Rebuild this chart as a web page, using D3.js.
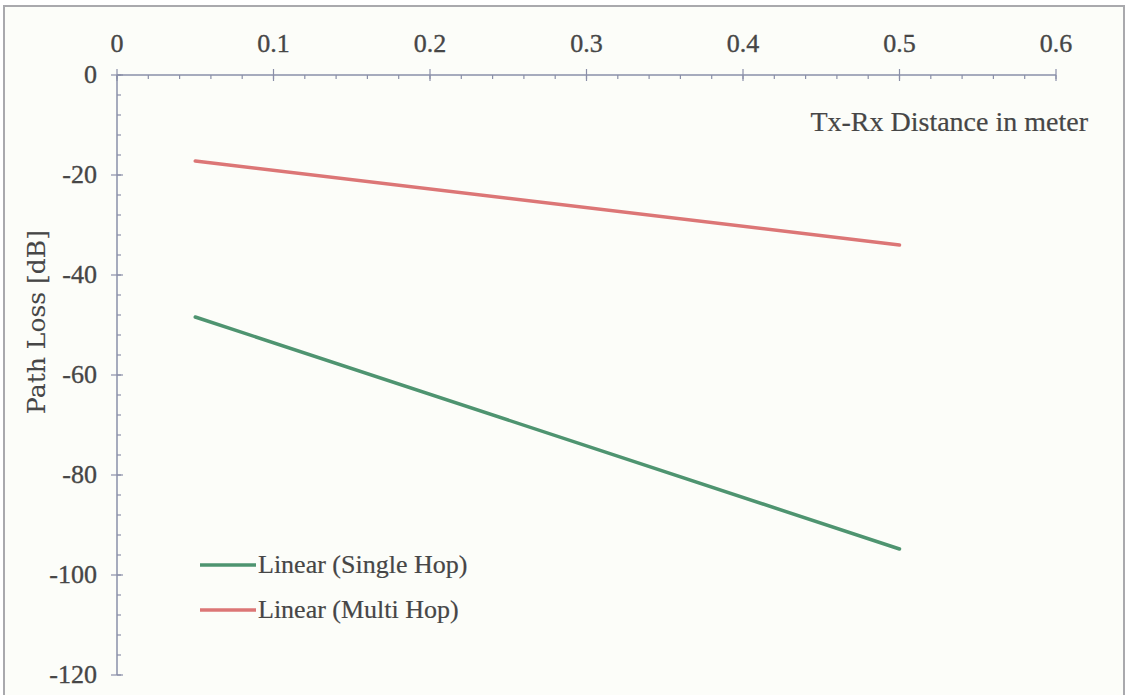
<!DOCTYPE html>
<html>
<head>
<meta charset="utf-8">
<script src="https://cdn.jsdelivr.net/npm/d3@7"></script>
<style>
  body { margin: 0; background: #fff; }
  text { font-family: "Liberation Serif", "Times New Roman", serif; fill: #464646; stroke: #464646; stroke-width: 0.35px; }
</style>
</head>
<body>
<script>
// data
var xTicks = [0, 0.1, 0.2, 0.3, 0.4, 0.5, 0.6];
var yTicks = [0, -20, -40, -60, -80, -100, -120];
var singleHop = [{x: 0.05, y: -48.4}, {x: 0.5, y: -94.8}];
var multiHop = [{x: 0.05, y: -17.2}, {x: 0.5, y: -34}];
var seriesNames = ["Linear (Single Hop)", "Linear (Multi Hop)"];
var seriesColors = ["#4e9470", "#dc7676"];

var width = 1128, height = 695;

var svg = d3.select("body").append("svg")
  .attr("width", width)
  .attr("height", height);

// chart area box
svg.append("rect")
  .attr("x", 4).attr("y", 6)
  .attr("width", 1120).attr("height", 700)
  .attr("fill", "#fcfdf9")
  .attr("stroke", "#a9a9ad")
  .attr("stroke-width", 2);

var x = d3.scaleLinear().domain([0, 0.6]).range([117, 1056]);
var y = d3.scaleLinear().domain([-120, 0]).range([675, 75]);

var axisColor = "#8a8fa8";

// minor ticks
var xMinor = d3.range(0, 0.6001, 0.02);
var yMinor = d3.range(-120, 0.001, 4);

var g = svg.append("g");

g.append("line")
  .attr("x1", x(0)).attr("x2", x(0.6))
  .attr("y1", y(0)).attr("y2", y(0))
  .attr("stroke", axisColor).attr("stroke-width", 1.5);
g.append("line")
  .attr("x1", x(0)).attr("x2", x(0))
  .attr("y1", y(0)).attr("y2", y(-120))
  .attr("stroke", axisColor).attr("stroke-width", 1.5);

g.selectAll(".xminor").data(xMinor).enter().append("line")
  .attr("x1", function(d) { return x(d); })
  .attr("x2", function(d) { return x(d); })
  .attr("y1", y(0)).attr("y2", y(0) + 4)
  .attr("stroke", axisColor).attr("stroke-width", 1.2);
g.selectAll(".xmajor").data(xTicks).enter().append("line")
  .attr("x1", function(d) { return x(d); })
  .attr("x2", function(d) { return x(d); })
  .attr("y1", y(0) - 6).attr("y2", y(0) + 6)
  .attr("stroke", axisColor).attr("stroke-width", 1.2);

g.selectAll(".yminor").data(yMinor).enter().append("line")
  .attr("x1", x(0)).attr("x2", x(0) + 4)
  .attr("y1", function(d) { return y(d); })
  .attr("y2", function(d) { return y(d); })
  .attr("stroke", axisColor).attr("stroke-width", 1.2);
g.selectAll(".ymajor").data(yTicks).enter().append("line")
  .attr("x1", x(0) - 6).attr("x2", x(0) + 6)
  .attr("y1", function(d) { return y(d); })
  .attr("y2", function(d) { return y(d); })
  .attr("stroke", axisColor).attr("stroke-width", 1.2);

// tick labels
g.selectAll(".xlab").data(xTicks).enter().append("text")
  .attr("x", function(d) { return x(d); })
  .attr("y", 52)
  .attr("text-anchor", "middle")
  .style("font-size", "26px")
  .text(function(d) { return d; });

g.selectAll(".ylab").data(yTicks).enter().append("text")
  .attr("x", 97)
  .attr("y", function(d) { return y(d) + 8; })
  .attr("text-anchor", "end")
  .style("font-size", "26px")
  .text(function(d) { return d; });

// axis titles
svg.append("text")
  .attr("x", 1088).attr("y", 131)
  .attr("text-anchor", "end")
  .style("font-size", "28px")
  .style("stroke-width", "0.2px")
  .text("Tx-Rx Distance in meter");

svg.append("text")
  .attr("transform", "translate(45,322) rotate(-90)")
  .attr("text-anchor", "middle")
  .style("font-family", "'DejaVu Serif', serif")
  .style("font-size", "25px")
  .style("stroke-width", "0.1px")
  .text("Path Loss [dB]");

// series lines
var line = d3.line()
  .x(function(d) { return x(d.x); })
  .y(function(d) { return y(d.y); });

svg.append("path")
  .datum(singleHop)
  .attr("d", line)
  .attr("fill", "none")
  .attr("stroke", seriesColors[0])
  .attr("stroke-width", 3.5)
  .attr("stroke-linecap", "round");

svg.append("path")
  .datum(multiHop)
  .attr("d", line)
  .attr("fill", "none")
  .attr("stroke", seriesColors[1])
  .attr("stroke-width", 3.5)
  .attr("stroke-linecap", "round");

// legend
var legend = svg.append("g");
seriesNames.forEach(function(name, i) {
  var ly = 565 + i * 45;
  legend.append("line")
    .attr("x1", 200).attr("x2", 256)
    .attr("y1", ly).attr("y2", ly)
    .attr("stroke", seriesColors[i])
    .attr("stroke-width", 3.5);
  legend.append("text")
    .attr("x", 258).attr("y", ly + 8)
    .style("font-size", "26px")
    .style("stroke-width", "0.2px")
    .text(name);
});
</script>
</body>
</html>
